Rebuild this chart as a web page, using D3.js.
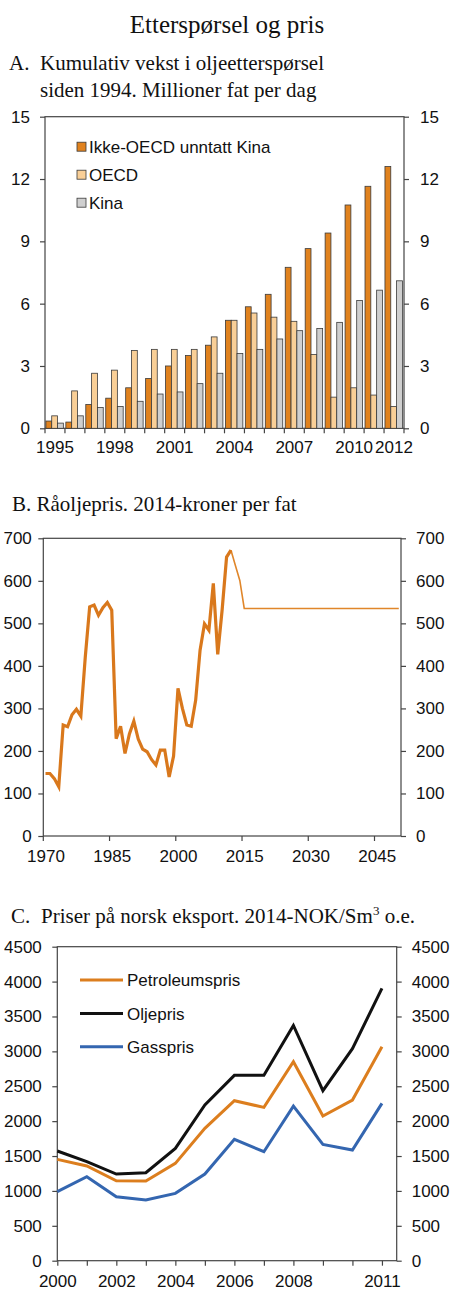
<!DOCTYPE html>
<html>
<head>
<meta charset="utf-8">
<script src="https://cdn.jsdelivr.net/npm/d3@7"></script>
<style>
  body { margin: 0; background: #fff; }
</style>
</head>
<body>
<div id="chart"></div>
<script>
// Panel A: kumulativ vekst i oljeetterspørsel
const yearsA = [1995, 1996, 1997, 1998, 1999, 2000, 2001, 2002, 2003, 2004, 2005, 2006, 2007, 2008, 2009, 2010, 2011, 2012];
const ikkeOecd = [0.35, 0.3, 1.15, 1.45, 1.95, 2.4, 3.0, 3.5, 4.0, 5.2, 5.85, 6.45, 7.75, 8.65, 9.4, 10.75, 11.65, 12.6];
const oecd = [0.6, 1.8, 2.65, 2.8, 3.75, 3.8, 3.8, 3.8, 4.4, 5.2, 5.55, 5.35, 5.15, 3.55, 1.5, 1.95, 1.6, 1.05];
const kina = [0.25, 0.6, 1.0, 1.05, 1.3, 1.65, 1.75, 2.15, 2.65, 3.6, 3.8, 4.3, 4.7, 4.8, 5.1, 6.15, 6.65, 7.1];
const namesA = ["Ikke-OECD unntatt Kina", "OECD", "Kina"];
const labelsA = [1995, 1998, 2001, 2004, 2007, 2010, 2012];
const yTicksA = [0, 3, 6, 9, 12, 15];

// Panel B: råoljepris
const yearsB = [1970, 1971, 1972, 1973, 1974, 1975, 1976, 1977, 1978, 1979,
  1980, 1981, 1982, 1983, 1984, 1985, 1986, 1987, 1988, 1989,
  1990, 1991, 1992, 1993, 1994, 1995, 1996, 1997, 1998, 1999,
  2000, 2001, 2002, 2003, 2004, 2005, 2006, 2007, 2008, 2009,
  2010, 2011, 2012];
const prisB = [147, 147, 135, 116, 261, 257, 285, 298, 282, 420,
  539, 543, 519, 537, 549, 531, 229, 258, 194, 240,
  270, 228, 204, 198, 180, 167, 202, 202, 139, 188,
  347, 300, 261, 258, 319, 437, 499, 484, 594, 427,
  532, 656, 672];
const yearsProj = [2012, 2013, 2014, 2015, 2050];
const prisProj = [672, 636, 601, 535, 535];
const labelsB = [1970, 1985, 2000, 2015, 2030, 2045];
const yTicksB = [0, 100, 200, 300, 400, 500, 600, 700];

// Panel C: priser på norsk eksport
const yearsC = [2000, 2001, 2002, 2003, 2004, 2005, 2006, 2007, 2008, 2009, 2010, 2011];
const petroleumspris = [1452, 1357, 1146, 1142, 1395, 1897, 2293, 2197, 2852, 2073, 2302, 3067];
const oljepris = [1572, 1419, 1242, 1261, 1610, 2231, 2656, 2656, 3372, 2436, 3038, 3903];
const gasspris = [989, 1204, 917, 869, 965, 1242, 1739, 1562, 2216, 1667, 1586, 2255];
const namesC = ["Petroleumspris", "Oljepris", "Gasspris"];
const labelsC = [2000, 2002, 2004, 2006, 2008, 2011];
const yTicksC = [0, 500, 1000, 1500, 2000, 2500, 3000, 3500, 4000, 4500];

const sansFont = "'Liberation Sans', Arial, sans-serif";
const serifFont = "'Liberation Serif', 'Times New Roman', serif";
const axisColor = "#444";
const colorsA = ["#E0821E", "#F9CF97", "#CFCFCF"];
const colorsC = ["#DC7E1E", "#111111", "#3466B0"];

const svg = d3
  .select("#chart")
  .append("svg")
  .attr("width", 450)
  .attr("height", 1304)
  .attr("viewBox", "0 0 450 1304");

function addText(x, y, str, size, font, anchor) {
  return svg
    .append("text")
    .attr("x", x)
    .attr("y", y)
    .attr("font-size", size + "px")
    .attr("font-family", font)
    .attr("text-anchor", anchor || "start")
    .attr("fill", "#111")
    .text(str);
}

// Ramme + y-akser på begge sider
function drawFrame(x0, x1, yScale, yTicks, padLeft, padRight) {
  const [yb, yt] = yScale.range();

  svg
    .append("rect")
    .attr("x", x0)
    .attr("y", yt)
    .attr("width", x1 - x0)
    .attr("height", yb - yt)
    .attr("fill", "none")
    .attr("stroke", axisColor)
    .attr("stroke-width", 1.2);

  const fmt = d3.format("d");
  const left = svg
    .append("g")
    .attr("transform", `translate(${x0},0)`)
    .call(d3.axisLeft(yScale).tickValues(yTicks).tickFormat(fmt).tickSize(5).tickSizeOuter(0).tickPadding(padLeft));
  const right = svg
    .append("g")
    .attr("transform", `translate(${x1},0)`)
    .call(d3.axisRight(yScale).tickValues(yTicks).tickFormat(fmt).tickSize(5).tickSizeOuter(0).tickPadding(padRight));

  [left, right].forEach((g) => {
    g.select(".domain").remove();
    g.selectAll("line").attr("stroke", axisColor).attr("stroke-width", 1.2);
    g.selectAll("text")
      .attr("font-size", "17px")
      .attr("font-family", sansFont)
      .attr("fill", "#111");
  });
}

function styleXLabels(g) {
  g.select(".domain").remove();
  g.selectAll("text")
    .attr("font-size", "17px")
    .attr("font-family", sansFont)
    .attr("fill", "#111");
}

// Overskrifter
addText(227, 33, "Etterspørsel og pris", 25, serifFont, "middle");
addText(9, 70, "A.", 21, serifFont);
addText(40, 70, "Kumulativ vekst i oljeetterspørsel", 21, serifFont);
addText(40, 97, "siden 1994. Millioner fat per dag", 21, serifFont);
addText(12, 511, "B. Råoljepris. 2014-kroner per fat", 21, serifFont);
addText(11, 923, "C.", 21, serifFont);
const titleC = addText(41, 923, "Priser på norsk eksport. 2014-NOK/Sm", 21, serifFont);
titleC.append("tspan").attr("font-size", "13px").attr("dy", -8).text("3");
titleC.append("tspan").attr("dy", 8).text(" o.e.");

// ---------- Panel A ----------
const xA = d3.scaleBand().domain(yearsA).range([45, 404]).padding(0);
const xSubA = d3.scaleBand().domain(namesA).range([0.9, xA.bandwidth() - 1.6]).padding(0);
const yA = d3.scaleLinear().domain([0, 15]).range([428.3, 116.7]);
const dataA = [ikkeOecd, oecd, kina];

drawFrame(45, 404, yA, yTicksA, 10, 11);

const groupsA = svg
  .append("g")
  .selectAll("g")
  .data(yearsA)
  .join("g")
  .attr("transform", (d) => `translate(${xA(d)},0)`);

groupsA
  .selectAll("rect")
  .data((d, i) => namesA.map((name, k) => ({ name, value: dataA[k][i], k })))
  .join("rect")
  .attr("x", (d) => xSubA(d.name))
  .attr("y", (d) => yA(d.value))
  .attr("width", xSubA.bandwidth())
  .attr("height", (d) => yA(0) - yA(d.value))
  .attr("fill", (d) => colorsA[d.k])
  .attr("stroke", "#3a3a3a")
  .attr("stroke-width", 0.8);

// tick-streker mellom gruppene
svg
  .append("g")
  .selectAll("line")
  .data(yearsA.map((d) => xA(d)).concat([xA.range()[1]]))
  .join("line")
  .attr("x1", (d) => d)
  .attr("x2", (d) => d)
  .attr("y1", yA(0))
  .attr("y2", yA(0) + 5)
  .attr("stroke", axisColor)
  .attr("stroke-width", 1.2);

svg
  .append("g")
  .attr("transform", `translate(0,${yA(0)})`)
  .call(d3.axisBottom(xA).tickValues(labelsA).tickSize(0).tickPadding(13))
  .call(styleXLabels);

// legende A
const legendA = svg
  .append("g")
  .selectAll("g")
  .data(namesA)
  .join("g")
  .attr("transform", (d, i) => `translate(77,${146.7 + i * 28})`);
legendA
  .append("rect")
  .attr("x", 0)
  .attr("y", -4.5)
  .attr("width", 9)
  .attr("height", 9)
  .attr("fill", (d, i) => colorsA[i])
  .attr("stroke", "#3a3a3a")
  .attr("stroke-width", 0.8);
legendA
  .append("text")
  .attr("x", 12)
  .attr("dy", "0.36em")
  .attr("font-size", "17px")
  .attr("font-family", sansFont)
  .attr("fill", "#111")
  .text((d) => d);

// ---------- Panel B ----------
const xB = d3.scaleLinear().domain([1969.5, 2050.5]).range([43.3, 401]);
const yB = d3.scaleLinear().domain([0, 700]).range([836, 538.3]);

drawFrame(43.3, 401, yB, yTicksB, 6.5, 10);

svg
  .append("g")
  .selectAll("line")
  .data(labelsB)
  .join("line")
  .attr("x1", (d) => xB(d - 0.5))
  .attr("x2", (d) => xB(d - 0.5))
  .attr("y1", yB(0))
  .attr("y2", yB(0) + 5)
  .attr("stroke", axisColor)
  .attr("stroke-width", 1.2);

svg
  .append("g")
  .attr("transform", `translate(0,${yB(0)})`)
  .call(d3.axisBottom(xB).tickValues(labelsB).tickFormat(d3.format("d")).tickSize(0).tickPadding(14))
  .call(styleXLabels);

const lineB = d3
  .line()
  .x((d) => xB(d[0]))
  .y((d) => yB(d[1]));

svg
  .append("path")
  .datum(yearsProj.map((y, i) => [y, prisProj[i]]))
  .attr("fill", "none")
  .attr("stroke", "#E0862A")
  .attr("stroke-width", 1.6)
  .attr("d", lineB);

svg
  .append("path")
  .datum(yearsB.map((y, i) => [y, prisB[i]]))
  .attr("fill", "none")
  .attr("stroke", "#D9781C")
  .attr("stroke-width", 3.2)
  .attr("d", lineB);

// ---------- Panel C ----------
const xC = d3.scaleLinear().domain([2000, 2011.5]).range([57.3, 396.7]);
const yC = d3.scaleLinear().domain([0, 4500]).range([1260.7, 946.7]);

drawFrame(57.3, 396.7, yC, yTicksC, 10.5, 10);

svg
  .append("g")
  .attr("transform", `translate(0,${yC(0)})`)
  .call(
    d3
      .axisBottom(xC)
      .tickValues(yearsC)
      .tickSize(5)
      .tickSizeOuter(0)
      .tickPadding(9)
      .tickFormat((d) => (labelsC.includes(d) ? d : ""))
  )
  .call(styleXLabels)
  .call((g) => g.selectAll("line").attr("stroke", axisColor).attr("stroke-width", 1.2));

const lineC = d3
  .line()
  .x((d, i) => xC(yearsC[i]))
  .y((d) => yC(d));

const dataC = [petroleumspris, oljepris, gasspris];
// Gass først, så petroleum, olje øverst
[2, 0, 1].forEach((k) => {
  svg
    .append("path")
    .datum(dataC[k])
    .attr("fill", "none")
    .attr("stroke", colorsC[k])
    .attr("stroke-width", 3)
    .attr("d", lineC);
});

const legendC = svg
  .append("g")
  .selectAll("g")
  .data(namesC)
  .join("g")
  .attr("transform", (d, i) => `translate(80,${980 + i * 33.4})`);
legendC
  .append("line")
  .attr("x1", 0)
  .attr("x2", 43)
  .attr("stroke", (d, i) => colorsC[i])
  .attr("stroke-width", 3);
legendC
  .append("text")
  .attr("x", 47)
  .attr("dy", "0.36em")
  .attr("font-size", "17px")
  .attr("font-family", sansFont)
  .attr("fill", "#111")
  .text((d) => d);
</script>
</body>
</html>
